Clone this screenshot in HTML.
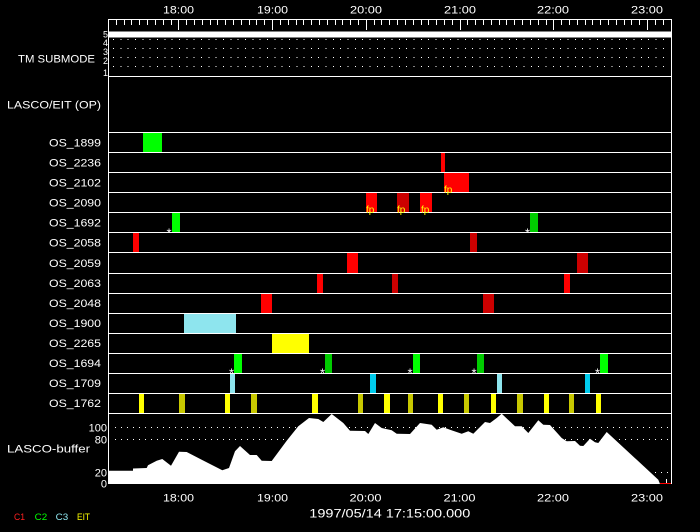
<!DOCTYPE html>
<html><head><meta charset="utf-8"><style>
html,body{margin:0;padding:0;background:#000;}
svg{display:block;}
text{font-family:"Liberation Sans",sans-serif;fill:#fff;}
</style></head><body>
<svg width="700" height="532" viewBox="0 0 700 532" xmlns="http://www.w3.org/2000/svg" shape-rendering="crispEdges">
<rect x="0" y="0" width="700" height="532" fill="#000"/>

<!-- top tick labels -->
<g font-size="11">
<text x="163" y="13.5" textLength="31" lengthAdjust="spacingAndGlyphs">18:00</text>
<text x="257" y="13.5" textLength="31" lengthAdjust="spacingAndGlyphs">19:00</text>
<text x="350" y="13.5" textLength="32" lengthAdjust="spacingAndGlyphs">20:00</text>
<text x="444" y="13.5" textLength="32" lengthAdjust="spacingAndGlyphs">21:00</text>
<text x="537" y="13.5" textLength="32" lengthAdjust="spacingAndGlyphs">22:00</text>
<text x="631" y="13.5" textLength="32" lengthAdjust="spacingAndGlyphs">23:00</text>
</g>

<!-- frame -->
<rect x="108" y="19" width="564" height="1" fill="#fff"/>
<rect x="108" y="19" width="1" height="465" fill="#fff"/>
<rect x="671" y="19" width="1" height="465" fill="#fff"/>

<!-- ticks -->
<path stroke="#fff" stroke-width="1" fill="none" d="M116.5 19v6M124.5 19v6M131.5 19v6M139.5 19v6M147.5 19v6M155.5 19v6M163.5 19v6M171.5 19v6M186.5 19v6M194.5 19v6M202.5 19v6M210.5 19v6M217.5 19v6M225.5 19v6M233.5 19v6M241.5 19v6M249.5 19v6M256.5 19v6M264.5 19v6M280.5 19v6M288.5 19v6M296.5 19v6M303.5 19v6M311.5 19v6M319.5 19v6M327.5 19v6M335.5 19v6M342.5 19v6M350.5 19v6M358.5 19v6M374.5 19v6M381.5 19v6M389.5 19v6M397.5 19v6M405.5 19v6M413.5 19v6M421.5 19v6M428.5 19v6M436.5 19v6M444.5 19v6M452.5 19v6M467.5 19v6M475.5 19v6M483.5 19v6M491.5 19v6M499.5 19v6M506.5 19v6M514.5 19v6M522.5 19v6M530.5 19v6M538.5 19v6M546.5 19v6M561.5 19v6M569.5 19v6M577.5 19v6M585.5 19v6M592.5 19v6M600.5 19v6M608.5 19v6M616.5 19v6M624.5 19v6M631.5 19v6M639.5 19v6M655.5 19v6M663.5 19v6"/>
<path stroke="#fff" stroke-width="1" fill="none" d="M178.5 19v11M272.5 19v11M366.5 19v11M460.5 19v11M553.5 19v11M647.5 19v11"/>

<!-- TM submode -->
<rect x="109" y="31.5" width="562" height="6" fill="#fff"/>
<g stroke="#fff" stroke-width="1" stroke-dasharray="1 6.33">
<line x1="113" y1="39.5" x2="670" y2="39.5"/>
<line x1="113" y1="48.5" x2="670" y2="48.5"/>
<line x1="113" y1="57.5" x2="670" y2="57.5"/>
<line x1="113" y1="66.5" x2="670" y2="66.5"/>
</g>
<rect x="108" y="76" width="564" height="1" fill="#fff"/>
<g font-size="9" text-anchor="end">
<text x="108" y="37.5">5</text>
<text x="108" y="46">4</text>
<text x="108" y="55">3</text>
<text x="108" y="64">2</text>
<text x="108" y="76">1</text>
</g>
<text x="18" y="62.3" font-size="11" textLength="77" lengthAdjust="spacingAndGlyphs">TM SUBMODE</text>
<text x="7" y="108.5" font-size="11" textLength="94" lengthAdjust="spacingAndGlyphs">LASCO/EIT (OP)</text>

<!-- bars -->
<g>
<rect x="143" y="133" width="19" height="19" fill="#00ff00"/>
<rect x="441" y="153" width="4" height="19" fill="#ff0000"/>
<rect x="444" y="173" width="25" height="19" fill="#ff0000"/>
<rect x="366" y="193" width="11" height="19" fill="#ff0000"/>
<rect x="397" y="193" width="12" height="19" fill="#cc0000"/>
<rect x="420" y="193" width="12" height="19" fill="#ff0000"/>
<rect x="172" y="213" width="8" height="19" fill="#00ff00"/>
<rect x="530" y="213" width="8" height="19" fill="#00cc00"/>
<rect x="133" y="233" width="6" height="19" fill="#ff0000"/>
<rect x="470" y="233" width="7" height="19" fill="#cc0000"/>
<rect x="347" y="253" width="11" height="20" fill="#ff0000"/>
<rect x="577" y="253" width="11" height="20" fill="#cc0000"/>
<rect x="317" y="274" width="6" height="19" fill="#ff0000"/>
<rect x="392" y="274" width="6" height="19" fill="#cc0000"/>
<rect x="564" y="274" width="6" height="19" fill="#ff0000"/>
<rect x="261" y="294" width="11" height="19" fill="#ff0000"/>
<rect x="483" y="294" width="11" height="19" fill="#cc0000"/>
<rect x="184" y="314" width="52" height="19" fill="#8ee5ee"/>
<rect x="272" y="334" width="37" height="19" fill="#ffff00"/>
<rect x="234" y="354" width="8" height="19" fill="#00ff00"/>
<rect x="325" y="354" width="7" height="19" fill="#00cc00"/>
<rect x="413" y="354" width="7" height="19" fill="#00ff00"/>
<rect x="477" y="354" width="7" height="19" fill="#00cc00"/>
<rect x="600" y="354" width="8" height="19" fill="#00ff00"/>
<rect x="230" y="374" width="5" height="19" fill="#8ee5ee"/>
<rect x="370" y="374" width="6" height="19" fill="#00ccee"/>
<rect x="497" y="374" width="5" height="19" fill="#8ee5ee"/>
<rect x="585" y="374" width="5" height="19" fill="#00ccee"/>
<rect x="139" y="394" width="5" height="19" fill="#ffff00"/>
<rect x="179" y="394" width="6" height="19" fill="#c8c800"/>
<rect x="225" y="394" width="5" height="19" fill="#ffff00"/>
<rect x="251" y="394" width="6" height="19" fill="#c8c800"/>
<rect x="312" y="394" width="6" height="19" fill="#ffff00"/>
<rect x="358" y="394" width="5" height="19" fill="#c8c800"/>
<rect x="384" y="394" width="6" height="19" fill="#ffff00"/>
<rect x="408" y="394" width="5" height="19" fill="#c8c800"/>
<rect x="438" y="394" width="5" height="19" fill="#ffff00"/>
<rect x="464" y="394" width="5" height="19" fill="#c8c800"/>
<rect x="491" y="394" width="5" height="19" fill="#ffff00"/>
<rect x="517" y="394" width="6" height="19" fill="#c8c800"/>
<rect x="544" y="394" width="5" height="19" fill="#ffff00"/>
<rect x="569" y="394" width="5" height="19" fill="#c8c800"/>
<rect x="596" y="394" width="5" height="19" fill="#ffff00"/>
</g>

<!-- row lines -->
<g fill="#fff">
<rect x="108" y="132" width="564" height="1"/>
<rect x="108" y="152" width="564" height="1"/>
<rect x="108" y="172" width="564" height="1"/>
<rect x="108" y="192" width="564" height="1"/>
<rect x="108" y="212" width="564" height="1"/>
<rect x="108" y="232" width="564" height="1"/>
<rect x="108" y="252" width="564" height="1"/>
<rect x="108" y="273" width="564" height="1"/>
<rect x="108" y="293" width="564" height="1"/>
<rect x="108" y="313" width="564" height="1"/>
<rect x="108" y="333" width="564" height="1"/>
<rect x="108" y="353" width="564" height="1"/>
<rect x="108" y="373" width="564" height="1"/>
<rect x="108" y="393" width="564" height="1"/>
<rect x="108" y="413" width="564" height="1"/>
</g>

<!-- fp labels -->
<g font-size="10">
<text x="444" y="193" style="fill:#ffff00">fp</text>
<text x="366" y="213" style="fill:#ffff00">fp</text>
<text x="397" y="213" style="fill:#ffff00">fp</text>
<text x="421" y="213" style="fill:#ffff00">fp</text>
</g>

<!-- asterisks -->
<g font-size="13" text-anchor="middle">
<text x="169" y="237.5">*</text>
<text x="527.5" y="237.5">*</text>
<text x="231.5" y="377.5">*</text>
<text x="322.5" y="377.5">*</text>
<text x="410" y="377.5">*</text>
<text x="474" y="377.5">*</text>
<text x="597.5" y="377.5">*</text>
</g>

<!-- row labels -->
<g font-size="11">
<text x="49" y="146.5" textLength="52" lengthAdjust="spacingAndGlyphs">OS_1899</text>
<text x="49" y="166.5" textLength="52" lengthAdjust="spacingAndGlyphs">OS_2236</text>
<text x="49" y="186.5" textLength="52" lengthAdjust="spacingAndGlyphs">OS_2102</text>
<text x="49" y="206.5" textLength="52" lengthAdjust="spacingAndGlyphs">OS_2090</text>
<text x="49" y="226.5" textLength="52" lengthAdjust="spacingAndGlyphs">OS_1692</text>
<text x="49" y="246.5" textLength="52" lengthAdjust="spacingAndGlyphs">OS_2058</text>
<text x="49" y="267" textLength="52" lengthAdjust="spacingAndGlyphs">OS_2059</text>
<text x="49" y="287" textLength="52" lengthAdjust="spacingAndGlyphs">OS_2063</text>
<text x="49" y="307" textLength="52" lengthAdjust="spacingAndGlyphs">OS_2048</text>
<text x="49" y="327" textLength="52" lengthAdjust="spacingAndGlyphs">OS_1900</text>
<text x="49" y="347" textLength="52" lengthAdjust="spacingAndGlyphs">OS_2265</text>
<text x="49" y="367" textLength="52" lengthAdjust="spacingAndGlyphs">OS_1694</text>
<text x="49" y="387" textLength="52" lengthAdjust="spacingAndGlyphs">OS_1709</text>
<text x="49" y="407" textLength="52" lengthAdjust="spacingAndGlyphs">OS_1762</text>
</g>

<!-- LASCO buffer -->
<g stroke="#fff" stroke-width="1" stroke-dasharray="1 5">
<line x1="115" y1="427.5" x2="670" y2="427.5"/>
<line x1="115" y1="439.5" x2="670" y2="439.5"/>
<line x1="115" y1="472.5" x2="670" y2="472.5"/>
</g>
<polygon fill="#fff" shape-rendering="auto" points="109,484 109,470.7 133,470.7 133,468.5 146.7,468 148,465.3 156.7,460.7 162.3,459 171,465.7 179,451.7 186.7,452 201.7,459.7 222.3,470.3 229,468 235,451.3 240,446 250,455 256.7,455 261.7,460.7 271.7,461 286.7,440.7 298.3,426.3 309,418 318.3,419 323.3,422 331.7,414 343.3,423 350,430.7 365,431 368.3,434 375,423 381.7,428 391.7,430.3 396.7,433.7 410,434 420,423 431.7,424.7 436.7,429.7 443.3,427.3 450,429.7 461.7,433.7 468.3,431.3 473.3,433.7 485,422 490,423 496.7,418 501.7,413.7 515,426.3 521.7,426.3 528.3,433 538.3,420.3 543.3,424.7 550,425 561.7,438 566.7,441.3 575,441 580,445.7 583.3,446 590,438.7 595,442.3 598.3,443 606.7,432 658.3,479.7 660,484"/>
<rect x="656" y="479" width="1" height="5" fill="#fff"/>
<rect x="666" y="479" width="1" height="5" fill="#fff"/>
<rect x="660" y="483" width="11" height="1" fill="#ff0000"/>

<text x="7" y="452.7" font-size="11" textLength="83" lengthAdjust="spacingAndGlyphs">LASCO-buffer</text>
<g font-size="11" text-anchor="end">
<text x="107" y="431.7">100</text>
<text x="107" y="443.5">80</text>
<text x="107" y="476.7">20</text>
<text x="107" y="487.7">0</text>
</g>

<!-- bottom tick labels -->
<g font-size="11">
<text x="163" y="501.7" textLength="31" lengthAdjust="spacingAndGlyphs">18:00</text>
<text x="257" y="501.7" textLength="31" lengthAdjust="spacingAndGlyphs">19:00</text>
<text x="349.5" y="501.7" textLength="32" lengthAdjust="spacingAndGlyphs">20:00</text>
<text x="443.5" y="501.7" textLength="32" lengthAdjust="spacingAndGlyphs">21:00</text>
<text x="537" y="501.7" textLength="32" lengthAdjust="spacingAndGlyphs">22:00</text>
<text x="631" y="501.7" textLength="32" lengthAdjust="spacingAndGlyphs">23:00</text>
</g>
<text x="309.3" y="517.5" font-size="12" textLength="161" lengthAdjust="spacingAndGlyphs">1997/05/14 17:15:00.000</text>

<!-- legend -->
<g font-size="9">
<text x="14" y="520" textLength="11" lengthAdjust="spacingAndGlyphs" style="fill:#ff2020">C1</text>
<text x="34.7" y="520" textLength="12.6" lengthAdjust="spacingAndGlyphs" style="fill:#00ff00">C2</text>
<text x="55.7" y="520" textLength="12.6" lengthAdjust="spacingAndGlyphs" style="fill:#8ee5ee">C3</text>
<text x="77" y="520" textLength="13" lengthAdjust="spacingAndGlyphs" style="fill:#ffff00">EIT</text>
</g>
</svg>
</body></html>
